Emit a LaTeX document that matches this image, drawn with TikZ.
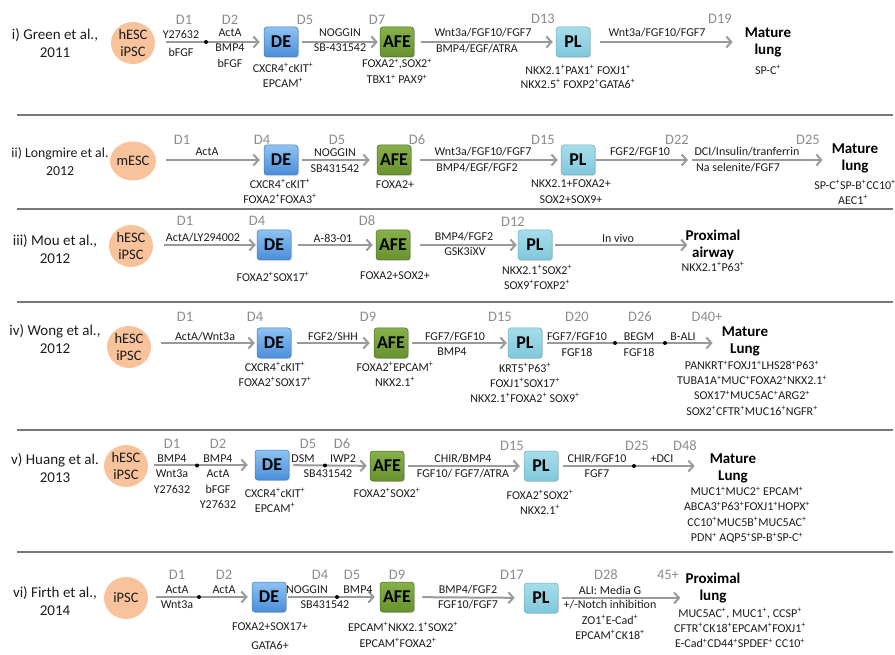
\documentclass[tikz,border=0pt]{standalone}
\usepackage{fontspec}
\setmainfont{Carlito}
\usetikzlibrary{arrows.meta,shapes.geometric,shadows}
\definecolor{peach}{HTML}{F8C29A}
\definecolor{deT}{HTML}{8EC2F2}
\definecolor{deB}{HTML}{4A8EDA}
\definecolor{afeT}{HTML}{86B04A}
\definecolor{afeB}{HTML}{67922E}
\definecolor{plT}{HTML}{A6DDEA}
\definecolor{plB}{HTML}{80C8DC}
\definecolor{arrg}{HTML}{9A9A9A}
\definecolor{sepg}{HTML}{787878}
\definecolor{dayg}{HTML}{8C8C8C}
\definecolor{txt}{HTML}{1C1C1C}
\newcommand{\pz}{\textsuperscript{+}}
\begin{document}
\begin{tikzpicture}[x=1pt,y=-1pt,
 author/.style={font=\fontsize{15}{18}\selectfont, align=center, text=txt, inner sep=0},
 day/.style={font=\fontsize{14.5}{15}\selectfont, text=dayg, inner sep=0},
 lbl/.style={font=\fontsize{12}{15}\selectfont, text=txt, inner sep=0, align=center},
 multi/.style={font=\fontsize{12}{15.3}\selectfont, text=txt, inner sep=0, align=center},
 cell/.style={ellipse, fill=peach, minimum width=44pt, minimum height=42pt, inner sep=-5pt, font=\fontsize{14.5}{17}\selectfont, align=center, text=txt},
 box/.style={rounded corners=3pt, minimum width=34pt, minimum height=30pt, inner sep=1pt, font=\bfseries\fontsize{18}{18}\selectfont, text=black, line width=0.5pt, drop shadow={opacity=0.25,shadow xshift=1pt,shadow yshift=-1.2pt}},
 de/.style={box, top color=deT, bottom color=deB, draw=deB!85!black},
 afe/.style={box, top color=afeT, bottom color=afeB, draw=afeB!75!black},
 pl/.style={box, top color=plT, bottom color=plB, draw=plB!85!black},
 endn/.style={font=\bfseries\fontsize{15}{17}\selectfont, align=center, inner sep=0, text=black},
 arr/.style={draw=arrg, line width=2pt, -{Straight Barb[length=5pt,width=11pt]}},
 sep/.style={draw=sepg, line width=1.8pt},
 dot/.style={circle, fill=black, inner sep=0, minimum size=4pt}]
\useasboundingbox (0,0) rectangle (895,655);

% ---------------- Row i ----------------
\node[author] (a1) at (55,43) {i) Green et al.,\\2011};
\node[cell] (c1) at (133,43) {hESC\\iPSC};
\node[de] (de1) at (281,42) {DE};
\node[afe] (afe1) at (397,42) {AFE};
\node[pl] (pl1) at (573,42) {PL};
\node[endn] (m1) at (768,42) {Mature\\lung};
\node[day] (d1a) at (184,20) {D1};
\node[day] (d1b) at (230,20) {D2};
\node[day] (d1c) at (305,20) {D5};
\node[day] (d1d) at (377,20) {D7};
\node[day] (d1e) at (543,19) {D13};
\node[day] (d1f) at (720,19) {D19};
\draw[arr, shorten <=11pt, shorten >=4pt] (c1.east |- de1) -- (de1.west);
\draw[arr, shorten <=4pt, shorten >=2pt] (de1) -- (afe1);
\draw[arr, shorten <=7pt, shorten >=3pt] (afe1) -- (pl1);
\draw[arr, shorten <=10pt, shorten >=12pt] (pl1) -- (pl1 -| m1.west);
\node[dot] (k1) at (206,42) {};
\node[lbl] (l1a) at (181,34) {Y27632};
\node[lbl] (l1b) at (181,52) {bFGF};
\node[lbl] (l1c) at (230,33) {ActA};
\node[lbl] (l1d) at (230,48) {BMP4};
\node[lbl] (l1e) at (230,63) {bFGF};
\node[lbl] (l1f) at (283,68) {CXCR4\pz cKIT\pz};
\node[lbl] (l1g) at (283,83) {EPCAM\pz};
\node[lbl] (l1h) at (340,33) {NOGGIN};
\node[lbl] (l1i) at (340,48) {SB-431542};
\node[lbl] (l1j) at (397,64) {FOXA2\pz,SOX2\pz};
\node[lbl] (l1k) at (397,79) {TBX1\pz\ PAX9\pz};
\node[lbl] (l1l) at (483,33) {Wnt3a/FGF10/FGF7};
\node[lbl] (l1m) at (477,49) {BMP4/EGF/ATRA};
\node[lbl] (l1n) at (578,70) {NKX2.1\pz PAX1\pz\ FOXJ1\pz};
\node[lbl] (l1o) at (578,84) {NKX2.5\pz\ FOXP2\pz GATA6\pz};
\node[lbl] (l1p) at (657,33) {Wnt3a/FGF10/FGF7};
\node[lbl] (l1q) at (768,70) {SP-C\pz};
\draw[sep] (17,115) -- (893,115);

% ---------------- Row ii ----------------
\node[author, font=\fontsize{13.8}{18}\selectfont] (a2) at (60,162) {ii) Longmire et al.\\2012};
\node[cell, minimum width=46pt, minimum height=39pt] (c2) at (133,161) {mESC};
\node[de] (de2) at (281,160) {DE};
\node[afe] (afe2) at (394,160) {AFE};
\node[pl] (pl2) at (578,160) {PL};
\coordinate (x2) at (690,160);
\node[endn] (m2) at (855,158) {Mature\\lung};
\node[day] (d2a) at (182,140) {D1};
\node[day] (d2b) at (262,140) {D4};
\node[day] (d2c) at (337,140) {D5};
\node[day] (d2d) at (417,140) {D6};
\node[day] (d2e) at (543,140) {D15};
\node[day] (d2f) at (677,140) {D22};
\node[day] (d2g) at (808,140) {D25};
\draw[arr, shorten <=10pt, shorten >=4pt] (c2.east |- de2) -- (de2.west);
\draw[arr, shorten <=4pt, shorten >=7pt] (de2) -- (afe2);
\draw[arr, shorten <=9pt, shorten >=3pt] (afe2) -- (pl2);
\draw[arr, shorten <=1pt, shorten >=2pt] (pl2) -- (x2);
\draw[arr, shorten <=2pt, shorten >=9pt] (x2) -- (x2 -| m2.west);
\node[lbl] (l2a) at (207,152) {ActA};
\node[lbl] (l2b) at (280,184) {CXCR4\pz cKIT\pz};
\node[lbl] (l2c) at (280,199) {FOXA2\pz FOXA3\pz};
\node[lbl] (l2d) at (335,153) {NOGGIN};
\node[lbl] (l2e) at (335,169) {SB431542};
\node[lbl] (l2f) at (395,185) {FOXA2+};
\node[lbl] (l2g) at (483,152) {Wnt3a/FGF10/FGF7};
\node[lbl] (l2h) at (477,168) {BMP4/EGF/FGF2};
\node[lbl] (l2i) at (571,184) {NKX2.1+FOXA2+};
\node[lbl] (l2j) at (571,200) {SOX2+SOX9+};
\node[lbl] (l2k) at (640,152) {FGF2/FGF10};
\node[lbl] (l2l) at (747,152) {DCI/Insulin/tranferrin};
\node[lbl] (l2m) at (738,168) {Na selenite/FGF7};
\node[lbl] (l2n) at (855,185) {SP-C\pz SP-B\pz CC10\pz};
\node[lbl] (l2o) at (853,200) {AEC1\pz};
\draw[sep] (17,209) -- (893,209);

% ---------------- Row iii ----------------
\node[author] (a3) at (55,249) {iii) Mou et al.,\\2012};
\node[cell] (c3) at (131,246) {hESC\\iPSC};
\node[de] (de3) at (274,245) {DE};
\node[afe] (afe3) at (393,245) {AFE};
\node[pl] (pl3) at (535,245) {PL};
\node[endn] (m3) at (713,245) {Proximal\\airway};
\node[day] (d3a) at (185,221) {D1};
\node[day] (d3b) at (257,221) {D4};
\node[day] (d3c) at (367,221) {D8};
\node[day] (d3d) at (513,222) {D12};
\draw[arr, shorten <=11pt, shorten >=1pt] (c3.east |- de3) -- (de3.west);
\draw[arr, shorten <=7pt, shorten >=3pt] (de3) -- (afe3);
\draw[arr, shorten <=10pt, shorten >=1pt] (afe3) -- (pl3);
\draw[arr, shorten <=3pt, shorten >=-2pt] (pl3) -- (pl3 -| m3.west);
\node[lbl] (l3a) at (203,238) {ActA/LY294002};
\node[lbl] (l3b) at (273,277) {FOXA2\pz SOX17\pz};
\node[lbl] (l3c) at (333,238) {A-83-01};
\node[lbl] (l3d) at (395,276) {FOXA2+SOX2+};
\node[lbl] (l3e) at (464,237) {BMP4/FGF2};
\node[lbl] (l3f) at (465,251) {GSK3iXV};
\node[lbl] (l3g) at (537,270) {NKX2.1\pz SOX2\pz};
\node[lbl] (l3h) at (537,285) {SOX9\pz FOXP2\pz};
\node[lbl] (l3i) at (618,238) {In vivo};
\node[lbl] (l3j) at (713,267) {NKX2.1\pz P63\pz};
\draw[sep] (17,302) -- (893,302);

% ---------------- Row iv ----------------
\node[author] (a4) at (55,339) {iv) Wong et al.,\\2012};
\node[cell] (c4) at (129,347) {hESC\\iPSC};
\node[de] (de4) at (274,343) {DE};
\node[afe] (afe4) at (391,343) {AFE};
\node[pl] (pl4) at (525,343) {PL};
\node[endn] (m4) at (745,341) {Mature\\Lung};
\node[day] (d4a) at (185,317) {D1};
\node[day] (d4b) at (255,317) {D4};
\node[day] (d4c) at (368,317) {D9};
\node[day] (d4d) at (500,317) {D15};
\node[day] (d4e) at (577,317) {D20};
\node[day] (d4f) at (640,317) {D26};
\node[day] (d4g) at (707,317) {D40+};
\draw[arr, shorten <=10pt, shorten >=2pt] (c4.east |- de4) -- (de4.west);
\draw[arr, shorten <=6pt, shorten >=4pt] (de4) -- (afe4);
\draw[arr, shorten <=4pt, shorten >=1pt] (afe4) -- (pl4);
\draw[arr, shorten <=5pt, shorten >=9pt] (pl4) -- (pl4 -| m4.west);
\node[dot] (k4a) at (615,343) {};
\node[dot] (k4b) at (665,343) {};
\node[lbl] (l4a) at (205,337) {ActA/Wnt3a};
\node[lbl] (l4b) at (275,367) {CXCR4\pz cKIT\pz};
\node[lbl] (l4c) at (275,382) {FOXA2\pz SOX17\pz};
\node[lbl] (l4d) at (333,337) {FGF2/SHH};
\node[lbl] (l4e) at (395,367) {FOXA2\pz EPCAM\pz};
\node[lbl] (l4f) at (395,382) {NKX2.1\pz};
\node[lbl] (l4g) at (455,337) {FGF7/FGF10};
\node[lbl] (l4h) at (452,352) {BMP4};
\node[lbl] (l4i) at (525,368) {KRT5\pz P63\pz};
\node[lbl] (l4j) at (525,383) {FOXJ1\pz SOX17\pz};
\node[lbl] (l4k) at (525,398) {NKX2.1\pz FOXA2\pz\ SOX9\pz};
\node[lbl] (l4l) at (577,337) {FGF7/FGF10};
\node[lbl] (l4m) at (577,352) {FGF18};
\node[lbl] (l4n) at (639,337) {BEGM};
\node[lbl] (l4o) at (639,352) {FGF18};
\node[lbl] (l4p) at (683,337) {B-ALI};
\node[multi] (l4q) at (752,388) {PANKRT\pz FOXJ1\pz LHS28\pz P63\pz\\TUBA1A\pz MUC\pz FOXA2\pz NKX2.1\pz\\SOX17\pz MUC5AC\pz ARG2\pz\\SOX2\pz CFTR\pz MUC16\pz NGFR\pz};
\draw[sep] (17,430) -- (893,430);

% ---------------- Row v ----------------
\node[author] (a5) at (55,468) {v) Huang et al.\\2013};
\node[cell] (c5) at (126,466) {hESC\\iPSC};
\node[de] (de5) at (272,465) {DE};
\node[afe] (afe5) at (387,466) {AFE};
\node[pl] (pl5) at (541,466) {PL};
\node[endn] (m5) at (733,468) {Mature\\Lung};
\node[day] (d5a) at (172,444) {D1};
\node[day] (d5b) at (218,444) {D2};
\node[day] (d5c) at (308,444) {D5};
\node[day] (d5d) at (342,444) {D6};
\node[day] (d5e) at (512,446) {D15};
\node[day] (d5f) at (637,446) {D25};
\node[day] (d5g) at (685,446) {D48};
\draw[arr, shorten <=6pt, shorten >=7pt] (c5.east |- de5) -- (de5.west);
\draw[arr, shorten <=4pt, shorten >=3pt] (de5) -- (afe5);
\draw[arr, shorten <=4pt, shorten >=4pt] (afe5) -- (pl5);
\draw[arr, shorten <=5pt, shorten >=15pt] (pl5) -- (pl5 -| m5.west);
\node[dot] (k5a) at (197,465.5) {};
\node[dot] (k5b) at (325,465.5) {};
\node[dot] (k5c) at (634,466) {};
\node[lbl] (l5a) at (172,459) {BMP4};
\node[lbl] (l5b) at (172,474) {Wnt3a};
\node[lbl] (l5c) at (172,489) {Y27632};
\node[lbl] (l5d) at (218,459) {BMP4};
\node[lbl] (l5e) at (218,474) {ActA};
\node[lbl] (l5f) at (218,489) {bFGF};
\node[lbl] (l5g) at (218,504) {Y27632};
\node[lbl] (l5h) at (275,493) {CXCR4\pz cKIT\pz};
\node[lbl] (l5i) at (275,508) {EPCAM\pz};
\node[lbl] (l5j) at (303,459) {DSM};
\node[lbl] (l5k) at (343,459) {IWP2};
\node[lbl] (l5l) at (328,474) {SB431542};
\node[lbl] (l5m) at (387,493) {FOXA2\pz SOX2\pz};
\node[lbl] (l5n) at (463,459) {CHIR/BMP4};
\node[lbl] (l5o) at (463,474) {FGF10/ FGF7/ATRA};
\node[lbl] (l5p) at (540,495) {FOXA2\pz SOX2\pz};
\node[lbl] (l5q) at (540,510) {NKX2.1\pz};
\node[lbl] (l5r) at (597,459) {CHIR/FGF10};
\node[lbl] (l5s) at (597,474) {FGF7};
\node[lbl] (l5t) at (662,459) {+DCI};
\node[multi] (l5u) at (747,515) {MUC1\pz MUC2\pz\ EPCAM\pz\\ABCA3\pz P63\pz FOXJ1\pz HOPX\pz\\CC10\pz MUC5B\pz MUC5AC\pz\\PDN\pz\ AQP5\pz SP-B\pz SP-C\pz};
\draw[sep] (17,552) -- (893,552);

% ---------------- Row vi ----------------
\node[author] (a6) at (55,601) {vi) Firth et al.,\\2014};
\node[cell] (c6) at (126,598) {iPSC};
\node[de] (de6) at (269,597) {DE};
\node[afe] (afe6) at (397,597) {AFE};
\node[pl] (pl6) at (541,598) {PL};
\node[endn] (m6) at (713,588) {Proximal\\lung};
\node[day] (d6a) at (177,575) {D1};
\node[day] (d6b) at (224,575) {D2};
\node[day] (d6c) at (320,575) {D4};
\node[day] (d6d) at (352,575) {D5};
\node[day] (d6e) at (397,575) {D9};
\node[day] (d6f) at (512,575) {D17};
\node[day] (d6g) at (606,575) {D28};
\node[day] (d6h) at (668,575) {45+};
\draw[arr, shorten <=8pt, shorten >=4pt] (c6.east |- de6) -- (de6.west);
\draw[arr, shorten <=2pt, shorten >=5pt] (de6) -- (afe6);
\draw[arr, shorten <=8pt, shorten >=9pt] (afe6) -- (pl6);
\draw[arr, shorten <=4pt, shorten >=5pt] (pl6) -- (pl6 -| m6.west);
\node[dot] (k6a) at (199,597) {};
\node[dot] (k6b) at (337,597) {};
\node[lbl] (l6a) at (177,590) {ActA};
\node[lbl] (l6b) at (177,605) {Wnt3a};
\node[lbl] (l6c) at (224,590) {ActA};
\node[lbl] (l6d) at (270,627) {FOXA2+SOX17+};
\node[lbl] (l6e) at (270,645) {GATA6+};
\node[lbl] (l6f) at (307,590) {NOGGIN};
\node[lbl] (l6g) at (358,590) {BMP4};
\node[lbl] (l6h) at (325,605) {SB431542};
\node[lbl] (l6i) at (403,627) {EPCAM\pz NKX2.1\pz SOX2\pz};
\node[lbl] (l6j) at (398,643) {EPCAM\pz FOXA2\pz};
\node[lbl] (l6k) at (468,590) {BMP4/FGF2};
\node[lbl] (l6l) at (468,605) {FGF10/FGF7};
\node[lbl] (l6m) at (610,590) {ALI: Media G};
\node[lbl] (l6n) at (610,605) {+/-Notch inhibition};
\node[lbl] (l6o) at (610,620) {ZO1\pz E-Cad\pz};
\node[lbl] (l6p) at (610,635) {EPCAM\pz CK18\pz};
\node[multi] (l6q) at (740,628) {MUC5AC\pz, MUC1\pz, CCSP\pz\\CFTR\pz CK18\pz EPCAM\pz FOXJ1\pz\\E-Cad\pz CD44\pz SPDEF\pz\ CC10\pz};
\end{tikzpicture}
\end{document}
